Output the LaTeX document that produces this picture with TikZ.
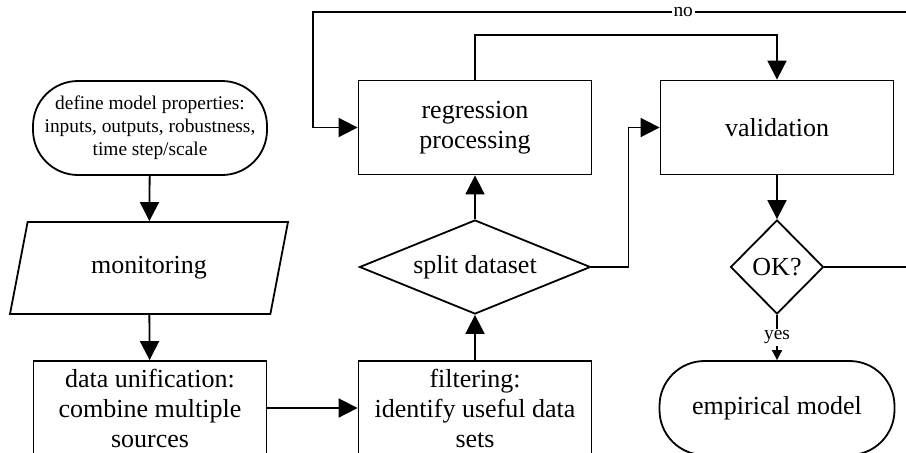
\documentclass[tikz,border=0pt]{standalone}
\usepackage{fontspec}
\setmainfont{Liberation Serif}
\usetikzlibrary{shapes.geometric,arrows.meta}
\tikzset{
  big/.style={font=\fontsize{13}{15}\selectfont},
  box/.style={draw,rectangle,big,align=center,inner sep=1pt,
    minimum width=116.5pt,minimum height=47pt},
  term/.style={box,rounded corners=22.5pt},
  decide/.style={draw,diamond,big,inner sep=0pt,minimum height=47pt},
  io/.style={draw,trapezium,big,trapezium left angle=64,trapezium right angle=116,
    trapezium stretches body,minimum width=139pt,minimum height=46pt},
  lbl/.style={fill=white,inner sep=1pt,font=\fontsize{9.7}{11}\selectfont},
  arr/.style={-{Triangle[length=9.5pt,width=9.5pt]}},
  arrsmall/.style={-{Triangle[length=5pt,width=5pt]}}
}
\begin{document}
\begin{tikzpicture}[x=0.5pt,y=-0.5pt,line width=0.9pt]
\path[use as bounding box] (0,0) rectangle (906,452);
\clip (0,0) rectangle (906,452);
% left column
\node[term,font=\fontsize{9.7}{11.5}\selectfont,minimum width=117pt] (def) at (150,128)
  {define model properties:\\inputs, outputs, robustness,\\time step/scale};
\node[io] (mon) at (149,268) {monitoring};
\node[box] (uni) at (150,408) {data unification:\\combine multiple\\sources};
% middle column
\node[box] (reg) at (475,127.5) {regression\\processing};
\node[decide,shape aspect=2.46,minimum width=115.5pt] (split) at (475,267) {split dataset};
\node[box] (filt) at (475,408) {filtering:\\identify useful data\\sets};
% right column
\node[box] (val) at (777,127.5) {validation};
\node[decide,shape aspect=1,minimum width=46.5pt] (ok) at (777,267) {OK?};
\node[term,minimum width=117.5pt] (emp) at (777,408) {empirical model};
\coordinate (noR) at (930,12);
\coordinate (noL) at (313,12);
% connectors
\draw[arr] (def) -- (mon);
\draw[arr] (mon) -- (uni);
\draw[arr] (uni) -- (filt);
\draw[arr] (filt) -- (split);
\draw[arr] (split) -- (reg);
\draw[arr] (split.east) -- ++(37,0) |- (val.west);
\draw[arr] (reg.north) -- ++(0,-45) -| (val.north);
\draw[arr] (val) -- (ok);
\draw[arrsmall] (ok.south) -- node[lbl] {yes} (emp.north);
\draw[arr] (ok.east) -| (noR) -- node[lbl,pos=.4] {no} (noL) |- (reg.west);
\end{tikzpicture}
\end{document}
